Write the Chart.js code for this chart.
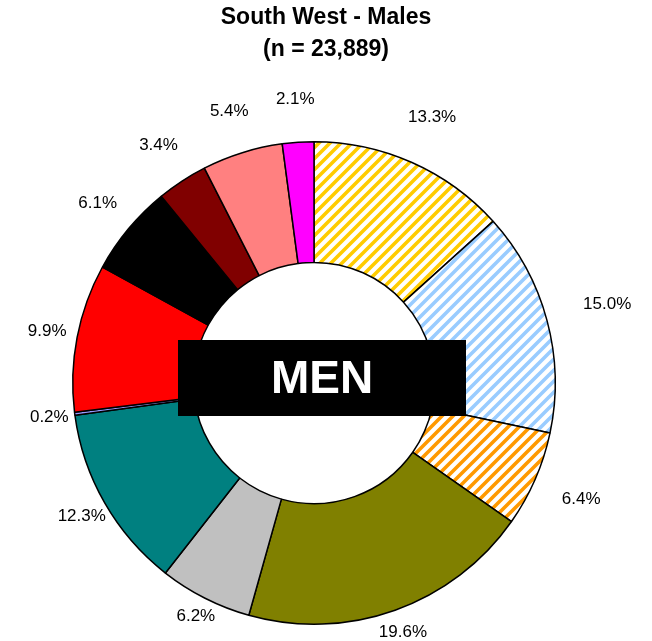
<!DOCTYPE html>
<html>
<head>
<meta charset="utf-8">
<script src="https://cdn.jsdelivr.net/npm/chart.js@4/dist/chart.umd.min.js"></script>
<style>
    html, body { margin: 0; padding: 0; background: #fff; }
    #wrap { width: 652px; height: 641px; }
</style>
</head>
<body>
<div id="wrap"><canvas id="chart" width="652" height="641"></canvas></div>
<script>
// shares of south west males, clockwise from 12 o'clock
const categories = [
    "Cat 1", "Cat 2", "Cat 3", "Cat 4", "Cat 5", "Cat 6",
    "Cat 7", "Cat 8", "Cat 9", "Cat 10", "Cat 11", "Cat 12",
];
const shares = [13.3, 15.0, 6.4, 19.6, 6.2, 12.3, 0.2, 9.9, 6.1, 3.4, 5.4, 2.1];
const fills = [
    { stripe: "#ffcc00" },
    { stripe: "#99ccff" },
    { stripe: "#ff9900" },
    "#808000", "#c0c0c0", "#008080", "#9999ff",
    "#ff0000", "#000000", "#800000", "#ff8080", "#ff00ff",
];
const titleLines = ["South West - Males", "(n = 23,889)"];
const centreText = "MEN";

Chart.defaults.font.family = "'Liberation Sans', Arial, sans-serif";
Chart.defaults.color = "#000";

function stripes(color) {
    const s = 11;
    const c = document.createElement("canvas");
    c.width = s;
    c.height = s;
    const g = c.getContext("2d");
    g.fillStyle = "#fff";
    g.fillRect(0, 0, s, s);
    g.strokeStyle = color;
    g.lineWidth = 3.6;
    g.beginPath();
    g.moveTo(-2, s + 2); g.lineTo(s + 2, -2);
    g.moveTo(-3, 3); g.lineTo(3, -3);
    g.moveTo(s - 3, s + 3); g.lineTo(s + 3, s - 3);
    g.stroke();
    return g.createPattern(c, "repeat");
}

const backgrounds = fills.map((f) => (typeof f === "string" ? f : stripes(f.stripe)));

// title centred on the whole canvas, not on the ring
const pageTitle = {
    id: "pageTitle",
    afterDraw(chart) {
        const ctx = chart.ctx;
        ctx.save();
        ctx.font = "bold 23px 'Liberation Sans', Arial, sans-serif";
        ctx.fillStyle = "#000";
        ctx.textAlign = "center";
        ctx.textBaseline = "middle";
        titleLines.forEach((line, i) => {
            ctx.fillText(line, chart.width / 2, 18 + i * 32);
        });
        ctx.restore();
    },
};

const outsideLabels = {
    id: "outsideLabels",
    afterDatasetsDraw(chart) {
        const ctx = chart.ctx;
        const meta = chart.getDatasetMeta(0);
        ctx.save();
        ctx.font = "17px 'Liberation Sans', Arial, sans-serif";
        ctx.fillStyle = "#000";
        ctx.textAlign = "center";
        ctx.textBaseline = "middle";
        meta.data.forEach((arc, i) => {
            const p = arc.getProps(["x", "y", "startAngle", "endAngle", "outerRadius"], true);
            const mid = (p.startAngle + p.endAngle) / 2;
            const text = shares[i].toFixed(1) + "%";
            const w = ctx.measureText(text).width;
            const cos = Math.cos(mid);
            const sin = Math.sin(mid);
            const right = Math.max(0, cos);
            const r = p.outerRadius + 16 + (w / 4) * Math.abs(cos)
                + 26 * Math.max(0, -sin) + 30 * right * right;
            ctx.fillText(text, p.x + r * cos, p.y + r * sin);
        });
        ctx.restore();
    },
};

const centreBox = {
    id: "centreBox",
    afterDatasetsDraw(chart) {
        const ctx = chart.ctx;
        const arc = chart.getDatasetMeta(0).data[0];
        const cx = arc.x + 8;
        const cy = arc.y - 5;
        ctx.save();
        ctx.fillStyle = "#000";
        ctx.fillRect(cx - 144, cy - 38, 288, 76);
        ctx.fillStyle = "#fff";
        ctx.font = "bold 46px 'Liberation Sans', Arial, sans-serif";
        ctx.textAlign = "center";
        ctx.textBaseline = "middle";
        ctx.fillText(centreText, cx, cy + 2);
        ctx.restore();
    },
};

new Chart(document.getElementById("chart"), {
    type: "doughnut",
    data: {
        labels: categories,
        datasets: [
            {
                data: shares,
                backgroundColor: backgrounds,
                borderColor: "#000",
                borderWidth: 1.5,
                hoverOffset: 0,
                borderAlign: "center",
            },
        ],
    },
    options: {
        responsive: false,
        animation: false,
        cutout: "50%",
        layout: {
            padding: { left: 72, right: 96, top: 141, bottom: 16 },
        },
        plugins: {
            legend: { display: false },
            tooltip: { enabled: false },
            title: { display: false },
        },
    },
    plugins: [pageTitle, outsideLabels, centreBox],
});
</script>
</body>
</html>
